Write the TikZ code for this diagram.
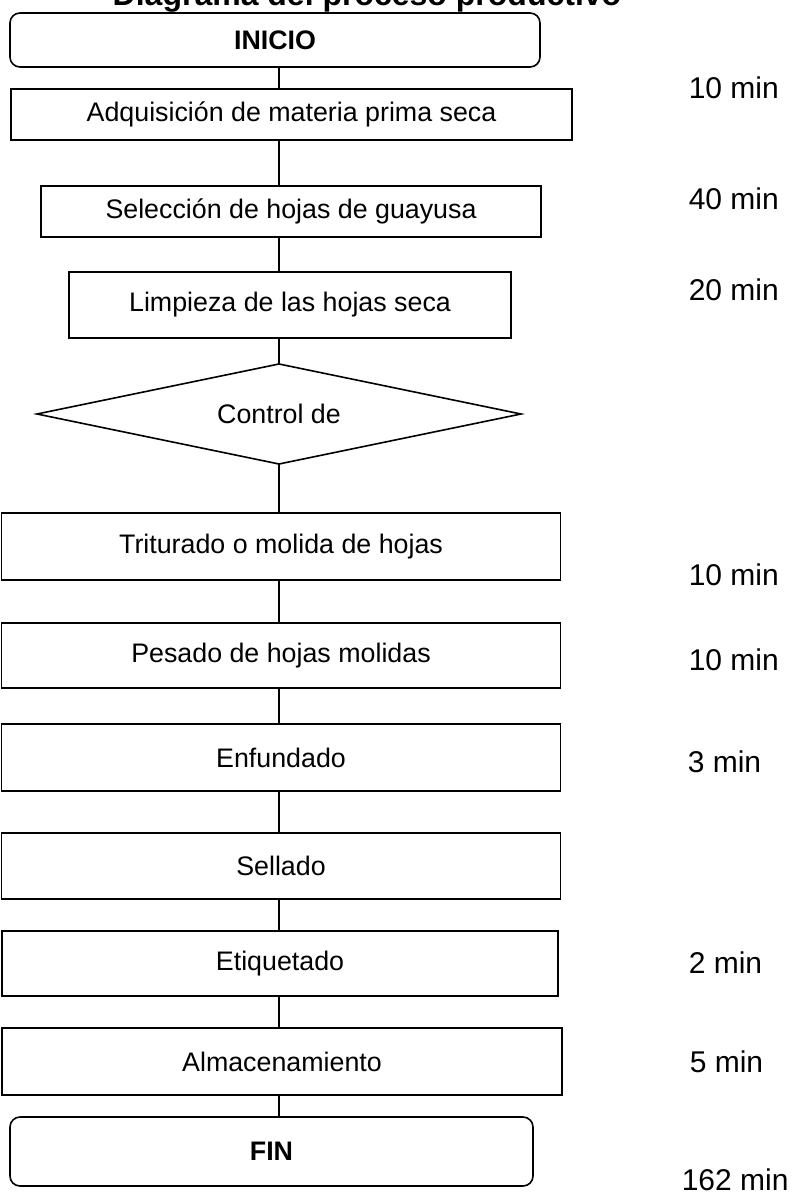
\documentclass[tikz,border=0pt]{standalone}
\usepackage{fontspec}
\setmainfont{Liberation Sans}
\usetikzlibrary{shapes.geometric}

\begin{document}
\begin{tikzpicture}[x=0.5pt, y=-0.5pt, line width=0.8pt,
    proc/.style={draw, rectangle, inner sep=0pt, outer sep=0pt, font=\fontsize{13.4}{16}\selectfont},
    term/.style={draw, rectangle, rounded corners=5pt, inner sep=0pt, outer sep=0pt, font=\fontsize{13.4}{16}\selectfont\bfseries},
    decision/.style={draw, diamond, aspect=4.84, inner sep=0pt, outer sep=0pt, font=\fontsize{13.4}{16}\selectfont},
    tiempo/.style={anchor=west, inner sep=0pt, font=\fontsize{15}{18}\selectfont}]

    \useasboundingbox (0,0) rectangle (795,1198);

    % Title (cut at the top)
    \node (titulo) [anchor=base, inner sep=0pt, font=\fontsize{16}{19}\selectfont\bfseries] at (367,6) {Diagrama del proceso productivo};

    % Start and first steps
    \node (inicio) [term, minimum width=265pt, minimum height=27pt] at (275,40) {INICIO};
    \node (adq) [proc, minimum width=280.5pt, minimum height=25.5pt] at (291.5,114.5) {Adquisición de materia prima seca};
    \node (sel) [proc, minimum width=250pt, minimum height=25.5pt] at (291,211.5) {Selección de hojas de guayusa};
    \node (limp) [proc, minimum width=221pt, minimum height=33pt] at (290,305) {Limpieza de las hojas seca};

    % Control
    \node (ctrl) [decision, minimum width=242pt, minimum height=50pt] at (279,414) {Control de};

    % Remaining steps
    \node (trit) [proc, minimum width=279.5pt, minimum height=33.5pt] at (281,546.5) {Triturado o molida de hojas};
    \node (pes) [proc, minimum width=279.5pt, minimum height=32.5pt] at (281,655.5) {Pesado de hojas molidas};
    \node (enf) [proc, minimum width=279.5pt, minimum height=33.5pt] at (281,757.5) {Enfundado};
    \node (sell) [proc, minimum width=279.5pt, minimum height=33pt] at (281,866) {Sellado};
    \node (etiq) [proc, minimum width=278pt, minimum height=32.5pt] at (280,963.5) {Etiquetado};
    \node (alm) [proc, minimum width=280pt, minimum height=33.5pt] at (282,1061.5) {Almacenamiento};
    \node (fin) [term, minimum width=261.5pt, minimum height=34.5pt] at (271.5,1151.5) {FIN};

    % Connectors
    \coordinate (eje) at (279,0);
    \draw (inicio.south -| eje) -- (adq.north -| eje);
    \draw (adq.south -| eje) -- (sel.north -| eje);
    \draw (sel.south -| eje) -- (limp.north -| eje);
    \draw (limp.south -| eje) -- (ctrl.north);
    \draw (ctrl.south) -- (trit.north -| eje);
    \draw (trit.south -| eje) -- (pes.north -| eje);
    \draw (pes.south -| eje) -- (enf.north -| eje);
    \draw (enf.south -| eje) -- (sell.north -| eje);
    \draw (sell.south -| eje) -- (etiq.north -| eje);
    \draw (etiq.south -| eje) -- (alm.north -| eje);
    \draw (alm.south -| eje) -- (fin.north -| eje);

    % Times
    \node (t1) [tiempo] at (688,88) {10 min};
    \node (t2) [tiempo] at (688,199) {40 min};
    \node (t3) [tiempo] at (688,290) {20 min};
    \node (t4) [tiempo] at (688,575) {10 min};
    \node (t5) [tiempo] at (688,660) {10 min};
    \node (t6) [tiempo] at (687,762) {3 min};
    \node (t7) [tiempo] at (688,963) {2 min};
    \node (t8) [tiempo] at (689,1062) {5 min};
    \node (total) [tiempo] at (681,1180) {162 min};

\end{tikzpicture}
\end{document}
